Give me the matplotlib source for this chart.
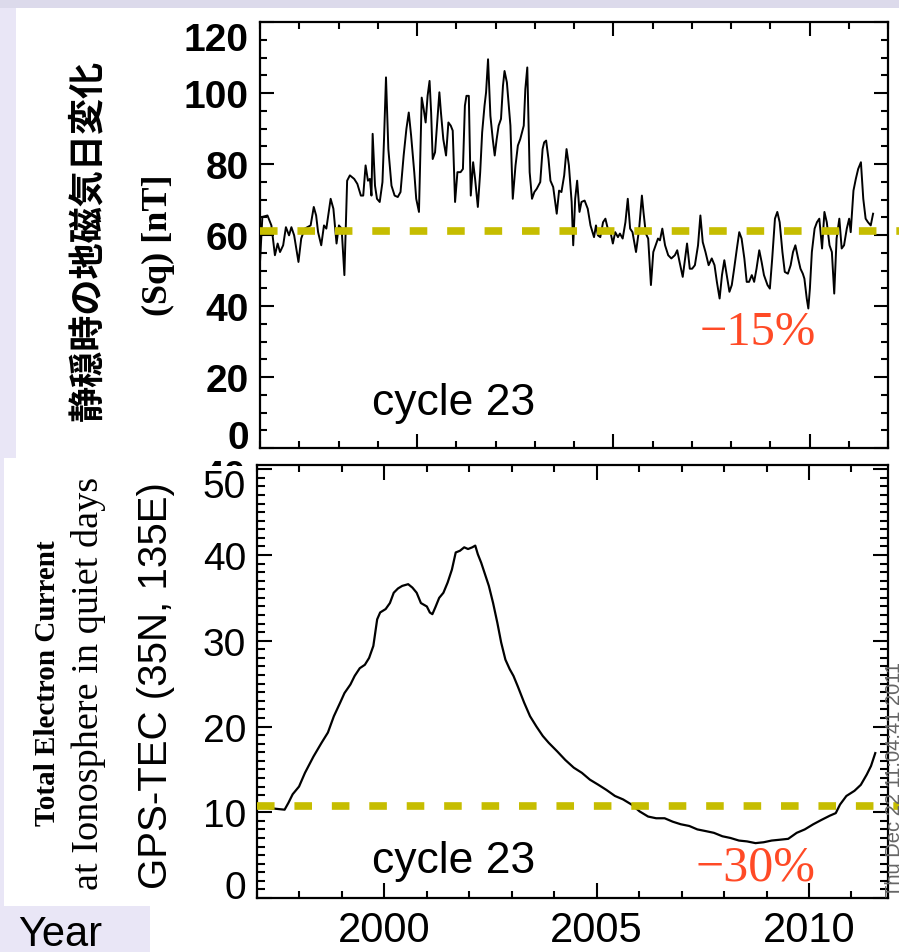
import matplotlib
matplotlib.use("Agg")
import matplotlib.pyplot as plt
from matplotlib.patches import Rectangle
from matplotlib.ticker import MultipleLocator
from matplotlib.transforms import Bbox, TransformedBbox

# ---- данные: Sq (верхняя панель) ----
sq_year = [
    1996.00, 1996.06, 1996.19, 1996.29, 1996.38, 1996.45, 1996.51, 1996.59, 1996.66, 1996.74,
    1996.80, 1996.87, 1996.98, 1997.05, 1997.14, 1997.29, 1997.37, 1997.43, 1997.48, 1997.56,
    1997.63, 1997.69, 1997.80, 1997.87, 1997.95, 1998.01, 1998.08, 1998.15, 1998.22, 1998.29,
    1998.40, 1998.48, 1998.57, 1998.63, 1998.69, 1998.75, 1998.80, 1998.84, 1998.87, 1998.93,
    1998.98, 1999.05, 1999.12, 1999.16, 1999.21, 1999.27, 1999.35, 1999.43, 1999.51, 1999.58,
    1999.66, 1999.73, 1999.79, 1999.85, 1999.93, 1999.98, 2000.05, 2000.12, 2000.17, 2000.22,
    2000.27, 2000.32, 2000.36, 2000.40, 2000.46, 2000.51, 2000.57, 2000.61, 2000.67, 2000.74,
    2000.80, 2000.86, 2000.91, 2000.97, 2001.03, 2001.11, 2001.17, 2001.22, 2001.26, 2001.32,
    2001.37, 2001.43, 2001.48, 2001.55, 2001.61, 2001.66, 2001.72, 2001.76, 2001.81, 2001.87,
    2001.93, 2001.98, 2002.03, 2002.08, 2002.14, 2002.19, 2002.23, 2002.29, 2002.38, 2002.44,
    2002.51, 2002.57, 2002.63, 2002.72, 2002.76, 2002.81, 2002.87, 2002.93, 2002.99, 2003.05,
    2003.14, 2003.20, 2003.24, 2003.29, 2003.35, 2003.40, 2003.47, 2003.56, 2003.62, 2003.68,
    2003.75, 2003.81, 2003.87, 2003.94, 2003.98, 2004.03, 2004.08, 2004.14, 2004.19, 2004.27,
    2004.35, 2004.42, 2004.51, 2004.56, 2004.61, 2004.67, 2004.74, 2004.80, 2004.86, 2004.93,
    2004.99, 2005.05, 2005.12, 2005.17, 2005.24, 2005.31, 2005.37, 2005.43, 2005.49, 2005.58,
    2005.66, 2005.73, 2005.77, 2005.83, 2005.89, 2005.96, 2006.02, 2006.08, 2006.14, 2006.19,
    2006.25, 2006.32, 2006.40, 2006.48, 2006.57, 2006.63, 2006.69, 2006.77, 2006.82, 2006.88,
    2006.95, 2007.01, 2007.08, 2007.16, 2007.22, 2007.28, 2007.35, 2007.43, 2007.51, 2007.58,
    2007.64, 2007.71, 2007.77, 2007.83, 2007.89, 2007.96, 2008.02, 2008.08, 2008.15, 2008.21,
    2008.27, 2008.34, 2008.40, 2008.46, 2008.53, 2008.59, 2008.65, 2008.72, 2008.78, 2008.84,
    2008.93, 2008.99, 2009.05, 2009.12, 2009.18, 2009.24, 2009.31, 2009.37, 2009.45, 2009.52,
    2009.58, 2009.64, 2009.71, 2009.77, 2009.83, 2009.87, 2009.93, 2009.97, 2010.01, 2010.06,
    2010.13, 2010.19, 2010.25, 2010.32, 2010.38, 2010.44, 2010.51, 2010.57, 2010.63, 2010.69,
    2010.76, 2010.82, 2010.88, 2010.95, 2011.01, 2011.05, 2011.12, 2011.18, 2011.24, 2011.31,
    2011.37, 2011.43, 2011.49, 2011.56, 2011.62,
]
sq_nt = [
    52.4, 65.1, 65.5, 62.7, 54.3, 57.6, 55.2, 57.1, 62.2, 59.9,
    62.2, 59.9, 52.4, 59.0, 61.8, 62.7, 67.9, 65.5, 60.8, 57.1,
    62.7, 61.8, 70.2, 67.4, 57.6, 62.7, 61.8, 48.7, 75.3, 76.8,
    75.8, 74.4, 71.1, 71.1, 79.6, 75.3, 75.8, 71.1, 88.5, 73.9,
    70.2, 69.3, 74.9, 87.0, 104.4, 84.2, 73.9, 71.1, 70.7, 72.1,
    82.4, 89.9, 94.5, 88.0, 77.7, 70.2, 66.5, 98.7, 95.5, 91.7,
    99.2, 103.4, 94.5, 81.4, 83.3, 90.8, 100.2, 94.5, 87.0, 82.4,
    91.7, 90.8, 89.4, 69.3, 77.7, 77.7, 78.6, 96.4, 99.2, 99.2,
    71.1, 80.5, 75.8, 67.9, 77.7, 88.9, 96.4, 100.2, 109.5, 93.6,
    87.0, 82.4, 87.0, 90.8, 92.7, 102.0, 106.2, 103.0, 90.8, 70.2,
    79.6, 85.2, 87.0, 90.8, 101.1, 107.2, 77.7, 70.2, 72.1, 73.0,
    74.9, 84.2, 86.1, 86.6, 81.4, 75.3, 73.5, 66.0, 72.5, 72.1,
    76.8, 84.2, 79.6, 69.3, 57.1, 70.2, 75.3, 66.5, 69.3, 69.7,
    67.4, 62.7, 59.4, 62.7, 59.9, 59.4, 63.6, 64.6, 61.8, 60.8,
    57.6, 60.8, 59.4, 60.4, 59.0, 63.6, 70.2, 61.8, 60.8, 55.2,
    61.8, 71.1, 66.5, 60.4, 59.0, 45.9, 55.2, 57.1, 59.0, 58.5,
    61.8, 57.1, 54.3, 53.4, 54.3, 55.7, 52.4, 48.2, 52.4, 57.6,
    50.5, 50.5, 51.5, 57.1, 65.5, 58.0, 55.2, 51.5, 53.4, 51.5,
    46.8, 42.1, 48.7, 52.9, 48.7, 44.0, 45.9, 50.5, 56.2, 60.8,
    59.0, 53.4, 46.8, 46.8, 48.7, 46.8, 50.5, 55.7, 52.4, 48.7,
    45.9, 44.9, 53.4, 64.6, 66.5, 63.6, 55.2, 49.6, 49.1, 51.5,
    55.2, 57.1, 53.4, 50.5, 49.1, 47.7, 42.1, 39.3, 44.9, 55.2,
    61.8, 63.6, 64.6, 56.2, 66.5, 63.6, 57.1, 55.2, 43.5, 59.0,
    64.6, 56.2, 57.1, 61.8, 64.6, 60.8, 72.5, 75.8, 78.6, 80.5,
    70.2, 64.6, 63.6, 62.7, 66.0,
]
sq_ref = 61.0

# ---- данные: GPS-TEC (нижняя панель) ----
tec_year = [
    1997.26, 1997.65, 1997.74, 1997.84, 1997.99, 1998.13, 1998.33, 1998.52, 1998.67, 1998.81,
    1998.96, 1999.06, 1999.20, 1999.30, 1999.42, 1999.54, 1999.64, 1999.74, 1999.83, 1999.90,
    2000.03, 2000.13, 2000.22, 2000.32, 2000.42, 2000.56, 2000.66, 2000.76, 2000.86, 2000.93,
    2001.00, 2001.07, 2001.13, 2001.20, 2001.29, 2001.39, 2001.49, 2001.59, 2001.68, 2001.78,
    2001.88, 2001.97, 2002.07, 2002.14, 2002.20, 2002.28, 2002.36, 2002.46, 2002.56, 2002.66,
    2002.75, 2002.85, 2002.95, 2003.04, 2003.14, 2003.29, 2003.43, 2003.58, 2003.73, 2003.87,
    2004.07, 2004.26, 2004.46, 2004.65, 2004.84, 2005.04, 2005.23, 2005.43, 2005.62, 2005.82,
    2006.01, 2006.21, 2006.40, 2006.60, 2006.79, 2006.98, 2007.18, 2007.37, 2007.57, 2007.76,
    2007.96, 2008.15, 2008.35, 2008.54, 2008.74, 2008.93, 2009.12, 2009.32, 2009.51, 2009.71,
    2009.90, 2010.10, 2010.29, 2010.49, 2010.63, 2010.73, 2010.88, 2011.07, 2011.22, 2011.36,
    2011.46, 2011.56,
]
tec_val = [
    10.5, 10.3, 11.1, 12.1, 13.0, 14.6, 16.5, 18.1, 19.3, 21.2,
    22.8, 23.9, 24.9, 25.9, 26.8, 27.2, 28.0, 29.4, 32.5, 33.3,
    33.7, 34.4, 35.6, 36.1, 36.4, 36.6, 36.2, 35.6, 34.4, 34.2,
    34.0, 33.3, 33.1, 33.9, 35.0, 35.6, 36.8, 38.3, 40.3, 40.5,
    40.9, 40.7, 40.9, 41.1, 40.1, 39.1, 37.9, 36.4, 34.4, 32.1,
    29.8, 27.8, 26.7, 25.9, 24.7, 22.8, 21.2, 20.0, 18.9, 18.1,
    17.1, 16.1, 15.2, 14.6, 13.8, 13.2, 12.6, 11.9, 11.5, 10.9,
    10.1, 9.5, 9.3, 9.3, 8.9, 8.6, 8.4, 8.0, 7.8, 7.6,
    7.2, 7.0, 6.7, 6.6, 6.4, 6.5, 6.7, 6.8, 6.9, 7.6,
    8.0, 8.6, 9.1, 9.6, 9.9, 10.9, 11.9, 12.5, 13.2, 14.4,
    15.4, 16.9,
]
tec_ref = 10.7

W, H = 899, 953
LAV = "#e9e6f6"
OLIVE = "#c6bd00"
RED = "#ff4a26"
SANS = "Liberation Sans"
SERIF = "Liberation Serif"


def fx(px):
    return px / W


def fy(py):
    return 1 - py / H


fig = plt.figure(figsize=(W / 100, H / 100), dpi=100)
fig.patch.set_facecolor("white")

# фон слайда
fig.add_artist(Rectangle((0, fy(9)), 1, 9 / H, transform=fig.transFigure,
                         color="#dcdaeb", lw=0, zorder=-10))
fig.add_artist(Rectangle((0, 0), fx(16), fy(9), transform=fig.transFigure,
                         color=LAV, lw=0, zorder=-10))
fig.add_artist(Rectangle((0, 0), fx(150), 46 / H, transform=fig.transFigure,
                         color=LAV, lw=0, zorder=-10))
fig.add_artist(Rectangle((fx(4), fy(907)), fx(12), fy(459) - fy(907),
                         transform=fig.transFigure, color="white", lw=0, zorder=-9))

# верхняя панель
ax1 = fig.add_axes([fx(260), fy(449), fx(888 - 260), (449 - 23) / H])
ax1.plot(sq_year, sq_nt, color="black", lw=1.4, zorder=3)
ax1.plot([1996.0, 2012.4], [sq_ref, sq_ref], color=OLIVE, lw=5.5,
         dashes=(2.3, 2.6), clip_on=False, zorder=4, solid_capstyle="butt")
ax1.set_xlim(1996.0, 2012.0)
ax1.set_ylim(0, 120)
ax1.set_yticks(range(0, 121, 20))
ax1.xaxis.set_major_locator(MultipleLocator(5))
ax1.xaxis.set_minor_locator(MultipleLocator(1))
ax1.yaxis.set_minor_locator(MultipleLocator(5))
ax1.tick_params(which="both", direction="in", top=True, right=True, width=1.5)
ax1.tick_params(which="major", length=10)
ax1.tick_params(which="minor", length=5)
ax1.tick_params(axis="x", labelbottom=False)
ax1.tick_params(axis="y", pad=8)
for lab in ax1.get_yticklabels():
    lab.set_fontfamily(SANS)
    lab.set_fontweight("bold")
    lab.set_fontsize(28)
yt1 = ax1.yaxis.get_major_ticks()
yt1[0].label1.set_va("baseline")
yt1[-1].label1.set_va("top")
for s in ax1.spines.values():
    s.set_linewidth(1.6)
ax1.text(1998.85, 9.5, "cycle 23", fontsize=32, family=SANS, zorder=5)
ax1.text(2007.2, 29.3, "\u221215%", fontsize=35, family=SERIF, color=RED, zorder=5)

# нижняя панель
ax2 = fig.add_axes([fx(257), fy(899), fx(888 - 257), (899 - 466) / H])
ax2.plot(tec_year, tec_val, color="black", lw=1.6, zorder=3)
ax2.plot([1997.0, 2012.3], [tec_ref, tec_ref], color=OLIVE, lw=5.5,
         dashes=(2.3, 2.6), clip_on=False, zorder=4, solid_capstyle="butt")
ax2.set_xlim(1997.0, 2011.86)
ax2.set_ylim(0, 50.5)
ax2.set_yticks(range(0, 51, 10))
ax2.xaxis.set_major_locator(MultipleLocator(5))
ax2.xaxis.set_minor_locator(MultipleLocator(1))
ax2.yaxis.set_minor_locator(MultipleLocator(1))
ax2.tick_params(which="both", direction="in", top=True, right=True, width=1.5)
ax2.tick_params(which="major", length=11)
ax2.tick_params(which="minor", length=6)
ax2.tick_params(axis="x", which="minor", length=5)
ax2.tick_params(axis="x", pad=9)
ax2.tick_params(axis="y", pad=8)
for lab in ax2.get_yticklabels():
    lab.set_fontfamily(SANS)
    lab.set_fontsize(28)
for lab in ax2.get_xticklabels():
    lab.set_fontfamily(SANS)
    lab.set_fontsize(30)
yt2 = ax2.yaxis.get_major_ticks()
yt2[0].label1.set_va("baseline")
yt2[-1].label1.set_va("top")
for s in ax2.spines.values():
    s.set_linewidth(1.6)
ax2.text(1999.72, 3.0, "cycle 23", fontsize=32, family=SANS, zorder=5)
ax2.text(2007.32, 2.2, "\u221230%", fontsize=36, family=SERIF, color=RED, zorder=5)

# подписи осей
fig.text(fx(88), fy(240), "静穏時の地磁気日変化", rotation=90, ha="center", va="center",
         fontsize=26, family=["Noto Sans CJK JP", "DejaVu Sans"], fontweight="bold")
fig.text(fx(158), fy(245), "(Sq) [nT]", rotation=90, ha="center", va="center",
         fontsize=26, family=SERIF, fontweight="bold")
fig.text(fx(48), fy(683), "Total Electron Current", rotation=90, ha="center", va="center",
         fontsize=21, family=SERIF, fontweight="bold")
fig.text(fx(89), fy(683), "at Ionosphere in quiet days", rotation=90, ha="center",
         va="center", fontsize=27.5, family=SERIF)
fig.text(fx(156), fy(686), "GPS-TEC (35N, 135E)", rotation=90, ha="center", va="center",
         fontsize=29, family=SANS)
fig.text(fx(18), fy(946), "Year", fontsize=30, family=SANS, ha="left", va="baseline")
fig.text(fx(895), fy(897), "Thu Dec 22 11:04:41 2011", rotation=90, ha="center",
         va="bottom", fontsize=14.5, family=SANS, color="#666666")

# обрезанная метка "40" над нижней панелью
t40 = fig.text(fx(246), fy(488), "40", fontsize=28, family=SANS, fontweight="bold",
               ha="right", va="baseline")
t40.set_clip_box(TransformedBbox(Bbox([[0, fy(467)], [1, fy(455)]]), fig.transFigure))

fig.savefig("out.png", dpi=100)
